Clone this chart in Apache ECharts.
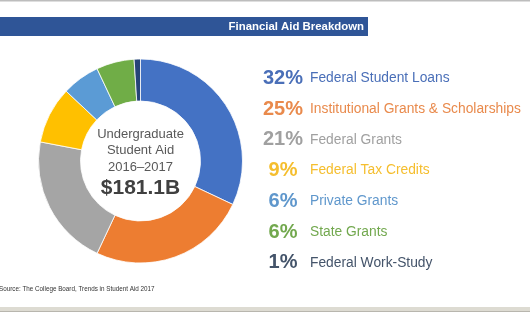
<!DOCTYPE html>
<html>
<head>
<meta charset="utf-8">
<script src="https://cdn.jsdelivr.net/npm/echarts@6/dist/echarts.min.js"></script>
<style>
  html, body { margin: 0; padding: 0; background: #fff; }
  #chart { width: 530px; height: 312px; }
</style>
</head>
<body>
<div id="chart"></div>
<script>
const categories = [
  'Federal Student Loans',
  'Institutional Grants & Scholarships',
  'Federal Grants',
  'Federal Tax Credits',
  'Private Grants',
  'State Grants',
  'Federal Work-Study'
];
const shares = [32, 25, 21, 9, 6, 6, 1];
const sliceColors = ['#4472C4', '#ED7D31', '#A5A5A5', '#FFC000', '#5B9BD5', '#70AD47', '#264478'];
const labelColors = ['#4A6FB8', '#E98A4C', '#A0A0A0', '#F5BE2E', '#5F97CC', '#72A84E', '#44546A'];
const centerLines = ['Undergraduate', 'Student Aid', '2016\u20132017'];
const total = '$181.1B';
const title = 'Financial Aid Breakdown';
const source = 'Source: The College Board, Trends in Student Aid 2017';

const font = 'Arial, "Liberation Sans", sans-serif';
const chart = echarts.init(document.getElementById('chart'));

const rich = {};
labelColors.forEach((c, i) => {
  rich['p' + i] = { fontSize: 20, fontWeight: 'bold', color: c, width: 42, align: 'right', fontFamily: font };
  rich['n' + i] = { fontSize: 13.8, color: c, padding: [0, 0, 0, 6], fontFamily: font };
});

chart.setOption({
  backgroundColor: '#fff',
  animation: false,
  legend: {
    orient: 'vertical',
    left: 252,
    top: 63.5,
    icon: 'none',
    itemWidth: 0,
    itemHeight: 0,
    itemGap: 10.7,
    selectedMode: false,
    data: categories,
    formatter: name => {
      const i = categories.indexOf(name);
      return '{p' + i + '|' + shares[i] + '%}{n' + i + '|' + name + '}';
    },
    textStyle: { rich: rich }
  },
  graphic: [
    { type: 'rect', shape: { x: 0, y: 0, width: 530, height: 1.5 }, style: { fill: '#BDBDBD' } },
    { type: 'rect', shape: { x: 0, y: 17, width: 368, height: 19 }, style: { fill: '#2F5597' } },
    { type: 'text', x: 364, y: 27, style: { text: title, fill: '#fff', font: 'bold 11.4px ' + font, align: 'right', verticalAlign: 'middle' } },
    { type: 'text', x: 140.5, y: 126, style: { text: centerLines.join('\n'), fill: '#595959', font: '13px ' + font, lineHeight: 16.5, align: 'center', verticalAlign: 'top' } },
    { type: 'text', x: 140.5, y: 188, style: { text: total, fill: '#404040', font: 'bold 21px ' + font, align: 'center', verticalAlign: 'middle' } },
    { type: 'text', x: -1, y: 289, style: { text: source, fill: '#333', font: '6.3px ' + font, verticalAlign: 'middle' } },
    { type: 'rect', shape: { x: 0, y: 307, width: 530, height: 5 }, style: { fill: '#DDDBD2' } },
    { type: 'rect', shape: { x: 0, y: 311, width: 530, height: 1 }, style: { fill: '#B8B6AE' } }
  ],
  series: [
    {
      type: 'pie',
      center: [140.5, 161],
      radius: [60, 102],
      startAngle: 90,
      clockwise: true,
      silent: true,
      label: { show: false },
      labelLine: { show: false },
      itemStyle: { borderColor: '#fff', borderWidth: 0.8 },
      data: categories.map((name, i) => ({ name: name, value: shares[i], itemStyle: { color: sliceColors[i] } }))
    }
  ]
});
</script>
</body>
</html>
